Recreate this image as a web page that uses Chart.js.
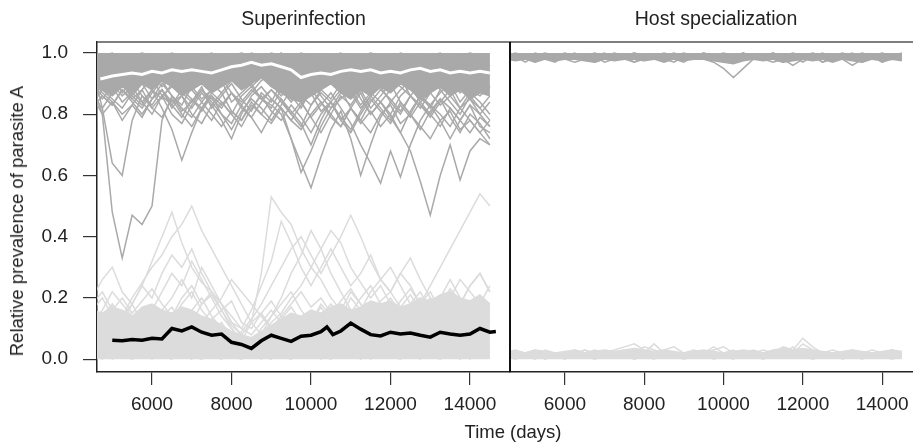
<!DOCTYPE html>
<html>
<head>
<meta charset="utf-8">
<script src="https://cdn.jsdelivr.net/npm/chart.js@4.4.1/dist/chart.umd.min.js"></script>
<style>
    html, body { margin: 0; padding: 0; background: #fff; overflow: hidden; }
    body { width: 913px; height: 443px; position: relative; font-family: "Liberation Sans", Arial, sans-serif; color: #222; }
    #panel_left { position: absolute; left: 0; top: 0; }
    #panel_right { position: absolute; left: 500px; top: 0; }
    #ylab { position: absolute; left: 17px; top: 221px; transform: translate(-50%, -50%) rotate(-90deg); font-size: 18.5px; white-space: nowrap; }
    #xlab { position: absolute; left: 513px; top: 432px; transform: translate(-50%, -50%); font-size: 18.5px; white-space: nowrap; }
</style>
</head>
<body>
<canvas id="panel_left" width="511" height="443"></canvas>
<canvas id="panel_right" width="430" height="443"></canvas>
<div id="ylab">Relative prevalence of parasite A</div>
<div id="xlab">Time (days)</div>
<script>
// time axis (days) shared by the simulation runs
const days = [4500,4750,5000,5250,5500,5750,6000,6250,6500,6750,
              7000,7250,7500,7750,8000,8250,8500,8750,9000,9250,
              9500,9750,10000,10250,10500,10750,11000,11250,11500,11750,
              12000,12250,12500,12750,13000,13250,13500,13750,14000,14250,
              14500];

const xTicks = [6000, 8000, 10000, 12000, 14000];
const yTicks = [0, 0.2, 0.4, 0.6, 0.8, 1.0];
const panelTitles = ["Superinfection", "Host specialization"];

// Superinfection: runs where A dominates (dark grey)
const superHigh = [
  [1.00,0.99,1.00,0.98,0.99,1.00,0.99,0.98,1.00,0.99, 0.97,0.99,1.00,0.98,0.99,1.00,0.99,0.98,1.00,0.99, 0.98,1.00,0.99,0.97,0.99,1.00,0.98,0.99,1.00,0.99, 0.98,1.00,0.99,0.98,0.99,1.00,0.98,0.99,1.00,0.99, 0.98],
  [0.97,0.96,0.98,0.95,0.97,0.99,0.96,0.97,0.99,0.98, 0.95,0.97,0.99,0.96,0.98,0.99,0.97,0.95,0.98,1.00, 0.97,0.96,0.98,0.95,0.97,0.99,0.96,0.98,0.99,0.97, 0.95,0.98,0.99,0.96,0.98,0.97,0.95,0.98,0.99,0.97, 0.96],
  [0.95,0.94,0.96,0.93,0.95,0.97,0.94,0.96,0.98,0.96, 0.93,0.95,0.97,0.94,0.96,0.98,0.99,0.97,0.98,0.99, 0.95,0.93,0.96,0.94,0.96,0.97,0.95,0.97,0.96,0.94, 0.96,0.97,0.95,0.96,0.94,0.96,0.97,0.95,0.96,0.94, 0.96],
  [0.93,0.90,0.88,0.91,0.86,0.90,0.93,0.89,0.92,0.88, 0.91,0.94,0.90,0.87,0.91,0.93,0.89,0.92,0.90,0.86, 0.89,0.92,0.87,0.90,0.93,0.89,0.86,0.90,0.92,0.88, 0.91,0.89,0.86,0.90,0.92,0.88,0.91,0.87,0.90,0.92, 0.89],
  [0.90,0.86,0.83,0.88,0.85,0.82,0.87,0.91,0.86,0.83, 0.89,0.85,0.88,0.91,0.84,0.87,0.90,0.85,0.82,0.88, 0.91,0.86,0.83,0.88,0.85,0.90,0.87,0.82,0.86,0.89, 0.84,0.88,0.91,0.85,0.83,0.87,0.90,0.84,0.88,0.86, 0.89],
  [0.92,0.88,0.90,0.86,0.89,0.84,0.88,0.82,0.75,0.65, 0.74,0.82,0.87,0.84,0.80,0.86,0.89,0.85,0.88,0.84, 0.80,0.76,0.83,0.87,0.84,0.88,0.82,0.78,0.84,0.88, 0.85,0.81,0.86,0.83,0.79,0.84,0.88,0.82,0.85,0.80, 0.84],
  [0.88,0.85,0.89,0.84,0.87,0.90,0.85,0.88,0.84,0.86, 0.82,0.87,0.83,0.78,0.72,0.80,0.86,0.89,0.85,0.82, 0.72,0.61,0.68,0.76,0.82,0.85,0.88,0.83,0.87,0.84, 0.80,0.86,0.89,0.84,0.87,0.83,0.86,0.89,0.85,0.82, 0.86],
  [0.86,0.82,0.87,0.90,0.86,0.83,0.88,0.85,0.90,0.87, 0.84,0.88,0.85,0.82,0.87,0.84,0.88,0.85,0.83,0.80, 0.72,0.64,0.56,0.66,0.75,0.81,0.72,0.60,0.70,0.79, 0.84,0.80,0.86,0.83,0.80,0.85,0.82,0.78,0.83,0.80, 0.76],
  [0.84,0.88,0.85,0.82,0.87,0.84,0.80,0.86,0.83,0.88, 0.85,0.81,0.86,0.83,0.87,0.82,0.79,0.84,0.88,0.85, 0.80,0.84,0.79,0.83,0.87,0.82,0.77,0.70,0.64,0.575, 0.68,0.595,0.70,0.78,0.83,0.80,0.76,0.82,0.78,0.74, 0.78],
  [0.82,0.86,0.83,0.88,0.84,0.80,0.85,0.88,0.83,0.79, 0.85,0.82,0.78,0.84,0.80,0.76,0.82,0.86,0.81,0.78, 0.83,0.79,0.74,0.80,0.84,0.78,0.82,0.77,0.81,0.76, 0.80,0.74,0.68,0.58,0.47,0.60,0.70,0.585,0.68,0.72, 0.70],
  [0.95,0.82,0.64,0.60,0.78,0.86,0.83,0.88,0.82,0.86, 0.80,0.77,0.83,0.87,0.81,0.78,0.84,0.80,0.85,0.82, 0.78,0.83,0.87,0.81,0.84,0.78,0.74,0.80,0.85,0.81, 0.77,0.83,0.79,0.84,0.80,0.76,0.82,0.78,0.74,0.79, 0.76],
  [0.90,0.80,0.48,0.33,0.47,0.44,0.50,0.78,0.86,0.82, 0.79,0.84,0.80,0.76,0.81,0.78,0.83,0.80,0.77,0.82, 0.78,0.75,0.80,0.84,0.79,0.76,0.82,0.78,0.74,0.80, 0.83,0.77,0.80,0.76,0.72,0.78,0.81,0.75,0.78,0.74, 0.70],
  [0.91,0.87,0.84,0.80,0.83,0.79,0.85,0.90,0.86,0.81, 0.84,0.89,0.82,0.86,0.90,0.85,0.81,0.87,0.84,0.90, 0.86,0.82,0.88,0.84,0.80,0.86,0.83,0.88,0.82,0.86, 0.90,0.84,0.80,0.86,0.82,0.88,0.84,0.80,0.86,0.82, 0.78],
  [0.98,0.97,0.95,0.97,0.99,0.96,0.98,0.95,0.97,0.99, 0.97,0.94,0.97,0.99,0.96,0.98,1.00,0.99,0.97,0.99, 0.96,0.98,0.95,0.97,0.99,0.96,0.98,0.95,0.98,0.96, 0.99,0.97,0.95,0.98,0.96,0.99,0.97,0.95,0.98,0.96, 0.97],
  [0.86,0.80,0.84,0.78,0.83,0.88,0.82,0.79,0.85,0.80, 0.76,0.82,0.86,0.80,0.77,0.83,0.79,0.74,0.80,0.85, 0.81,0.77,0.70,0.78,0.84,0.79,0.75,0.81,0.86,0.82, 0.78,0.84,0.80,0.75,0.81,0.85,0.79,0.74,0.80,0.77, 0.72],
  [0.89,0.92,0.87,0.90,0.85,0.88,0.92,0.86,0.89,0.93, 0.88,0.84,0.88,0.92,0.87,0.83,0.87,0.91,0.93,0.88, 0.84,0.88,0.91,0.86,0.82,0.87,0.91,0.85,0.80,0.84, 0.88,0.92,0.86,0.82,0.87,0.91,0.86,0.82,0.87,0.84, 0.80],
  [0.85,0.90,0.93,0.87,0.91,0.86,0.82,0.86,0.80,0.77, 0.83,0.88,0.84,0.80,0.75,0.81,0.85,0.82,0.78,0.83, 0.88,0.84,0.79,0.74,0.80,0.76,0.82,0.87,0.80,0.84, 0.79,0.74,0.81,0.86,0.83,0.78,0.72,0.78,0.83,0.76, 0.74]
];
// lower edge of the densely overlapping dark runs (filled up to 1.0)
const superHighCore = [0.90,0.88,0.86,0.89,0.87,0.90,0.88,0.91,0.89,0.86, 0.88,0.90,0.87,0.89,0.91,0.88,0.90,0.92,0.89,0.87,
                       0.85,0.84,0.86,0.88,0.90,0.87,0.85,0.88,0.86,0.89, 0.87,0.90,0.88,0.85,0.87,0.89,0.86,0.88,0.85,0.87, 0.86];

// Superinfection: runs where A is rare (light grey)
const superLow = [
  [0.02,0.00,0.03,0.01,0.00,0.02,0.04,0.01,0.00,0.03, 0.01,0.00,0.02,0.04,0.01,0.00,0.02,0.00,0.03,0.01, 0.00,0.02,0.04,0.01,0.00,0.03,0.01,0.02,0.00,0.03, 0.01,0.00,0.02,0.04,0.01,0.00,0.02,0.03,0.00,0.02, 0.01],
  [0.06,0.04,0.08,0.05,0.03,0.07,0.05,0.09,0.06,0.03, 0.07,0.10,0.06,0.04,0.08,0.05,0.02,0.06,0.09,0.05, 0.07,0.04,0.08,0.06,0.10,0.07,0.04,0.08,0.05,0.09, 0.06,0.03,0.07,0.05,0.08,0.06,0.04,0.07,0.09,0.05, 0.06],
  [0.12,0.15,0.10,0.14,0.18,0.12,0.09,0.14,0.17,0.12, 0.15,0.10,0.13,0.16,0.11,0.08,0.12,0.15,0.10,0.13, 0.17,0.12,0.09,0.14,0.11,0.16,0.13,0.10,0.15,0.12, 0.17,0.13,0.10,0.14,0.18,0.12,0.15,0.11,0.14,0.16, 0.12],
  [0.18,0.22,0.16,0.20,0.15,0.19,0.23,0.18,0.14,0.20, 0.24,0.18,0.21,0.16,0.19,0.12,0.10,0.15,0.19,0.14, 0.18,0.22,0.17,0.20,0.15,0.19,0.23,0.18,0.14,0.19, 0.22,0.17,0.21,0.16,0.20,0.18,0.23,0.19,0.15,0.20, 0.17],
  [0.20,0.26,0.30,0.22,0.18,0.24,0.32,0.40,0.48,0.38, 0.30,0.25,0.22,0.18,0.14,0.10,0.08,0.12,0.16,0.12, 0.15,0.11,0.14,0.10,0.13,0.17,0.12,0.09,0.13,0.10, 0.14,0.11,0.08,0.12,0.15,0.10,0.13,0.09,0.12,0.10, 0.08],
  [0.08,0.12,0.18,0.14,0.20,0.25,0.30,0.34,0.40,0.44, 0.50,0.42,0.36,0.30,0.24,0.18,0.12,0.08,0.12,0.15, 0.20,0.24,0.30,0.36,0.42,0.38,0.30,0.25,0.20,0.24, 0.18,0.14,0.10,0.14,0.18,0.13,0.10,0.14,0.11,0.08, 0.10],
  [0.04,0.08,0.06,0.10,0.14,0.10,0.16,0.22,0.28,0.24, 0.32,0.26,0.20,0.14,0.10,0.06,0.12,0.28,0.53,0.48, 0.44,0.36,0.30,0.26,0.20,0.16,0.22,0.18,0.12,0.16, 0.20,0.15,0.11,0.16,0.12,0.18,0.14,0.10,0.15,0.12, 0.14],
  [0.10,0.06,0.12,0.08,0.05,0.10,0.14,0.09,0.13,0.18, 0.22,0.16,0.12,0.08,0.05,0.09,0.13,0.18,0.24,0.30, 0.36,0.40,0.34,0.28,0.34,0.40,0.47,0.40,0.32,0.26, 0.30,0.24,0.18,0.22,0.16,0.20,0.26,0.20,0.16,0.12, 0.16],
  [0.14,0.10,0.06,0.10,0.14,0.09,0.12,0.16,0.20,0.26, 0.20,0.30,0.24,0.18,0.12,0.08,0.05,0.10,0.14,0.18, 0.22,0.16,0.12,0.18,0.14,0.10,0.15,0.20,0.24,0.18, 0.14,0.19,0.23,0.18,0.24,0.30,0.36,0.42,0.48,0.54, 0.50],
  [0.16,0.20,0.14,0.12,0.18,0.24,0.20,0.28,0.34,0.30, 0.36,0.28,0.22,0.18,0.12,0.10,0.16,0.24,0.32,0.45, 0.38,0.30,0.24,0.30,0.36,0.30,0.24,0.28,0.34,0.26, 0.22,0.28,0.24,0.18,0.22,0.16,0.20,0.26,0.22,0.18, 0.24],
  [0.02,0.05,0.09,0.06,0.03,0.07,0.10,0.14,0.10,0.16, 0.12,0.18,0.22,0.16,0.10,0.06,0.03,0.08,0.14,0.20, 0.28,0.34,0.42,0.36,0.28,0.22,0.16,0.12,0.18,0.14, 0.10,0.06,0.10,0.14,0.20,0.16,0.12,0.18,0.24,0.28, 0.22],
  [0.08,0.04,0.02,0.06,0.10,0.07,0.03,0.01,0.05,0.08, 0.04,0.06,0.09,0.12,0.07,0.04,0.02,0.05,0.03,0.07, 0.04,0.08,0.05,0.02,0.06,0.04,0.08,0.11,0.06,0.03, 0.07,0.10,0.06,0.09,0.05,0.02,0.06,0.04,0.08,0.05, 0.03],
  [0.12,0.16,0.22,0.18,0.14,0.10,0.06,0.10,0.15,0.12, 0.08,0.12,0.16,0.20,0.26,0.22,0.18,0.14,0.10,0.14, 0.10,0.06,0.10,0.14,0.18,0.14,0.20,0.16,0.22,0.26, 0.22,0.28,0.33,0.26,0.20,0.16,0.22,0.18,0.24,0.28, 0.22],
  [0.10,0.14,0.18,0.12,0.08,0.13,0.17,0.11,0.07,0.12, 0.16,0.20,0.14,0.10,0.06,0.03,0.05,0.09,0.06,0.10, 0.14,0.09,0.12,0.17,0.12,0.08,0.11,0.15,0.10,0.13, 0.08,0.12,0.16,0.11,0.15,0.20,0.15,0.12,0.17,0.13, 0.15],
  [0.01,0.03,0.00,0.02,0.05,0.02,0.00,0.03,0.06,0.02, 0.00,0.04,0.01,0.00,0.03,0.06,0.03,0.01,0.00,0.04, 0.02,0.06,0.03,0.00,0.02,0.05,0.02,0.00,0.04,0.01, 0.03,0.06,0.02,0.00,0.03,0.01,0.04,0.00,0.02,0.05, 0.02]
];
// upper edge of the densely overlapping light runs (filled down to 0)
const superLowCore = [0.16,0.15,0.17,0.16,0.14,0.17,0.18,0.16,0.15,0.17, 0.16,0.14,0.13,0.11,0.09,0.08,0.07,0.09,0.11,0.13,
                      0.15,0.14,0.16,0.15,0.17,0.18,0.16,0.17,0.19,0.18, 0.19,0.17,0.18,0.20,0.19,0.21,0.22,0.20,0.19,0.21, 0.18];

// mean of the high runs (white) and of the low runs (black)
const whiteDays = [4700,5000,5250,5500,5750,6000,6250,6500,6750,7000,7250,7500,7750,8000,8250,8500,8750,9000,9250,9500,
                   9750,10000,10250,10500,10750,11000,11250,11500,11750,12000,12250,12500,12750,13000,13250,13500,13750,14000,14250,14500];
const whiteMean = [0.915,0.925,0.93,0.935,0.93,0.94,0.935,0.945,0.94,0.945,0.94,0.935,0.945,0.955,0.96,0.97,0.96,0.965,0.955,0.945,
                   0.92,0.93,0.935,0.93,0.94,0.945,0.94,0.945,0.935,0.94,0.935,0.945,0.95,0.94,0.945,0.935,0.94,0.935,0.94,0.935];
const blackDays = [5000,5250,5500,5750,6000,6250,6500,6750,7000,7250,7500,7750,8000,8250,8500,8750,9000,9250,9500,9750,
                   10000,10250,10400,10550,10750,11000,11250,11500,11750,12000,12250,12500,12750,13000,13250,13500,13750,14000,14250,14500,14650];
const blackMean = [0.062,0.060,0.064,0.062,0.068,0.066,0.10,0.092,0.105,0.088,0.078,0.082,0.055,0.048,0.035,0.06,0.078,0.068,0.058,0.075,
                   0.078,0.09,0.105,0.08,0.092,0.118,0.098,0.08,0.076,0.088,0.082,0.085,0.078,0.072,0.088,0.082,0.078,0.082,0.10,0.088,0.09];

// Host specialization
const hostHigh = [
  [0.99,1.00,0.99,0.99,1.00,0.99,1.00,0.99,0.99,1.00, 0.99,1.00,0.99,1.00,0.99,0.99,1.00,0.99,1.00,0.99, 1.00,0.99,1.00,0.99,1.00,0.99,0.99,1.00,0.99,1.00, 0.99,1.00,0.99,0.99,1.00,0.99,1.00,0.99,1.00,0.99, 1.00],
  [0.98,0.99,0.97,0.99,0.98,0.97,0.99,0.98,0.99,0.97, 0.98,0.99,0.98,0.97,0.99,0.98,0.99,0.98,0.97,0.99, 0.98,0.97,0.95,0.92,0.95,0.98,0.99,0.98,0.97,0.99, 0.98,0.99,0.97,0.98,0.99,0.98,0.97,0.99,0.98,0.99, 0.98],
  [0.99,0.98,0.99,0.97,0.99,0.98,0.98,0.97,0.98,0.99, 0.97,0.98,0.99,0.97,0.98,0.99,0.98,0.97,0.99,0.98, 0.99,0.98,0.99,0.97,0.98,0.99,0.98,0.97,0.98,0.96, 0.98,0.99,0.97,0.99,0.98,0.96,0.98,0.99,0.97,0.98, 0.99],
  [1.00,0.99,0.98,1.00,0.99,0.98,0.99,1.00,0.98,0.99, 1.00,0.98,0.99,1.00,0.99,0.98,0.99,1.00,0.99,0.98, 1.00,0.99,0.98,0.99,1.00,0.98,0.99,1.00,0.98,0.99, 0.97,0.99,1.00,0.98,0.99,1.00,0.98,0.99,0.97,0.99, 0.98]
];
const hostHighCore = [0.98,0.975,0.98,0.97,0.98,0.975,0.98,0.98,0.975,0.97, 0.98,0.975,0.98,0.98,0.975,0.98,0.97,0.98,0.975,0.98,
                      0.98,0.975,0.97,0.965,0.975,0.98,0.975,0.98,0.97,0.975, 0.98,0.975,0.98,0.97,0.98,0.975,0.97,0.98,0.975,0.98, 0.975];
const hostLow = [
  [0.01,0.02,0.01,0.00,0.02,0.01,0.02,0.01,0.03,0.01, 0.02,0.01,0.02,0.03,0.02,0.05,0.02,0.01,0.02,0.01, 0.02,0.01,0.02,0.03,0.01,0.02,0.01,0.02,0.03,0.02, 0.05,0.03,0.02,0.01,0.02,0.01,0.02,0.01,0.02,0.03, 0.02],
  [0.02,0.01,0.02,0.03,0.02,0.01,0.02,0.03,0.02,0.03, 0.02,0.03,0.04,0.05,0.03,0.02,0.03,0.04,0.02,0.01, 0.02,0.03,0.04,0.02,0.01,0.02,0.03,0.02,0.04,0.03, 0.068,0.04,0.02,0.01,0.02,0.03,0.02,0.01,0.02,0.03, 0.02],
  [0.01,0.00,0.01,0.02,0.00,0.01,0.00,0.02,0.01,0.00, 0.01,0.02,0.01,0.00,0.01,0.00,0.02,0.01,0.00,0.01, 0.02,0.00,0.01,0.00,0.02,0.01,0.00,0.01,0.02,0.04, 0.01,0.00,0.01,0.02,0.00,0.01,0.00,0.02,0.01,0.00, 0.01],
  [0.02,0.03,0.02,0.01,0.03,0.02,0.01,0.02,0.03,0.02, 0.01,0.02,0.03,0.02,0.04,0.03,0.02,0.01,0.02,0.03, 0.02,0.04,0.02,0.01,0.02,0.03,0.02,0.01,0.02,0.03, 0.02,0.01,0.02,0.03,0.02,0.01,0.02,0.03,0.02,0.03, 0.02]
];
const hostLowCore = [0.02,0.025,0.02,0.03,0.025,0.02,0.025,0.03,0.02,0.025, 0.03,0.025,0.03,0.035,0.03,0.025,0.03,0.025,0.02,0.025,
                     0.03,0.025,0.02,0.025,0.03,0.025,0.02,0.03,0.035,0.03, 0.035,0.03,0.025,0.02,0.025,0.03,0.025,0.02,0.025,0.03, 0.025];

const DARK = '#a9a9a9';
const LIGHT = '#dcdcdc';
const FONT = '"Liberation Sans", Arial, sans-serif';

function serie(xs, vals, color, width) {
    return {
        data: vals.map((v, i) => ({ x: xs[i], y: v })),
        borderColor: color,
        borderWidth: width,
        pointRadius: 0,
        fill: false,
        tension: 0
    };
}

// dense bundle of runs: area between an edge series and a fixed level
function band(vals, color, level) {
    const s = serie(days, vals, color, 1.5);
    s.backgroundColor = color;
    s.fill = level === 0 ? 'origin' : { value: level };
    return s;
}

// top edge of the box and vertical divider between the panels
const boxLines = {
    id: 'boxLines',
    afterDraw(chart, args, opts) {
        const ctx = chart.ctx;
        const a = chart.chartArea;
        ctx.save();
        ctx.strokeStyle = '#555';
        ctx.lineWidth = 1.5;
        ctx.beginPath();
        ctx.moveTo(a.left, a.top);
        ctx.lineTo(a.right + 20, a.top);
        ctx.stroke();
        ctx.strokeStyle = '#111';
        ctx.lineWidth = 2;
        ctx.beginPath();
        const x = opts.side === 'right' ? a.right : a.left;
        ctx.moveTo(x, a.top);
        ctx.lineTo(x, a.bottom);
        ctx.stroke();
        ctx.restore();
    }
};

function panel(canvasId, title, datasets, showY, padding, side) {
    return new Chart(document.getElementById(canvasId), {
        type: 'line',
        data: { datasets: datasets },
        plugins: [boxLines],
        options: {
            responsive: false,
            animation: false,
            events: [],
            layout: { padding: padding },
            plugins: {
                legend: { display: false },
                tooltip: { enabled: false },
                boxLines: { side: side },
                title: {
                    display: true,
                    text: title,
                    fullSize: false,
                    color: '#222',
                    font: { family: FONT, size: 19.5, weight: 'normal' },
                    padding: { top: 8, bottom: 10.6 }
                }
            },
            scales: {
                x: {
                    type: 'linear',
                    min: 4616,
                    max: 15006,
                    afterBuildTicks: s => { s.ticks = xTicks.map(v => ({ value: v })); },
                    afterFit: s => { s.height = 71; },
                    ticks: {
                        autoSkip: false,
                        maxRotation: 0,
                        padding: 8,
                        color: '#222',
                        font: { family: FONT, size: 19 },
                        callback: v => String(v)
                    },
                    grid: { drawOnChartArea: false, drawTicks: true, tickLength: 13, color: '#333', lineWidth: 1.2 },
                    border: { display: true, color: '#222', width: 1.5 }
                },
                y: {
                    display: showY,
                    min: -0.042,
                    max: 1.036,
                    afterBuildTicks: s => { s.ticks = yTicks.map(v => ({ value: v })); },
                    afterFit: s => { s.width = showY ? 97 : 0; },
                    ticks: {
                        padding: 15,
                        color: '#222',
                        font: { family: FONT, size: 19 },
                        callback: v => v.toFixed(1)
                    },
                    grid: { drawOnChartArea: false, drawTicks: true, tickLength: 14, color: '#333', lineWidth: 1.2 },
                    border: { display: true, color: '#222', width: 1.5 }
                }
            }
        }
    });
}

const leftSets = [
    serie(blackDays, blackMean, '#000', 3.5),
    serie(whiteDays, whiteMean, '#fff', 3),
    ...superHigh.map(v => serie(days, v, DARK, 1.5)),
    ...superLow.map(v => serie(days, v, LIGHT, 1.5)),
    band(superHighCore, DARK, 1.0),
    band(superLowCore, LIGHT, 0)
];
const rightSets = [
    ...hostHigh.map(v => serie(days, v, DARK, 1.5)),
    ...hostLow.map(v => serie(days, v, LIGHT, 1.5)),
    band(hostHighCore, DARK, 1.0),
    band(hostLowCore, LIGHT, 0)
];

panel('panel_left', panelTitles[0], leftSets, true, { left: 0, right: 1, top: 0, bottom: 0 }, 'right');
panel('panel_right', panelTitles[1], rightSets, false, { left: 10, right: 8, top: 0, bottom: 0 }, 'left');
</script>
</body>
</html>
